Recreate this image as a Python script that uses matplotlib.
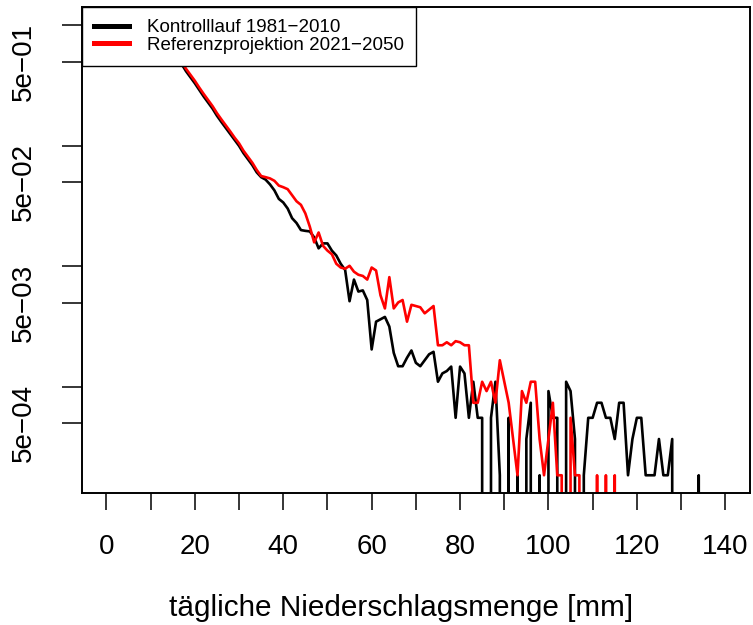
import matplotlib
matplotlib.use("Agg")
import matplotlib.pyplot as plt
from matplotlib.lines import Line2D
from matplotlib.ticker import NullLocator

plt.rcParams['font.family'] = ['Liberation Sans', 'DejaVu Sans']

# daily precipitation amount [mm]
x_mm = list(range(11, 141))

# relative frequency, control run 1981-2010
kontroll = [
    1.0, 0.902, 0.794, 0.708, 0.617, 0.550, 0.479, 0.417, 0.372, 0.331,   # 11-20
    0.292, 0.257, 0.229, 0.204, 0.178, 0.158, 0.141, 0.126, 0.112, 0.100,  # 21-30
    0.0871, 0.0776, 0.0692, 0.0603, 0.0550, 0.0525, 0.0479, 0.0427, 0.0363, 0.0339,  # 31-40
    0.0302, 0.0251, 0.0229, 0.0200, 0.0197, 0.0195, 0.0174, 0.0141, 0.0155, 0.0155,  # 41-50
    0.0135, 0.0123, 0.0105, 0.00933, 0.00513, 0.00776, 0.00617, 0.00631, 0.00525, 0.00204,  # 51-60
    0.00347, 0.00363, 0.00380, 0.00316, 0.00191, 0.00148, 0.00148, 0.00174, 0.00200, 0.00158,  # 61-70
    0.00148, 0.00166, 0.00186, 0.00195, 0.00110, 0.00129, 0.00135, 0.00147, 0.000552, 0.00147,  # 71-80
    0.00129, 0.000552, 0.00110, 0.000552, 0.000552, 0.0, 0.000552, 0.00110, 0.000184, 0.0,  # 81-90
    0.000552, 0.0, 0.000184, 0.0, 0.000368, 0.000736, 0.0, 0.000184, 0.0, 0.00092,  # 91-100
    0.000552, 0.000552, 0.0, 0.00110, 0.00092, 0.000368, 0.0, 0.000184, 0.000552, 0.000552,  # 101-110
    0.000736, 0.000736, 0.000552, 0.000552, 0.000368, 0.000736, 0.000736, 0.000184, 0.000368, 0.000552,  # 111-120
    0.000552, 0.000184, 0.000184, 0.000184, 0.000368, 0.000184, 0.000184, 0.000368, 0.0, 0.0,  # 121-130
    0.0, 0.0, 0.0, 0.000184, 0.0, 0.0, 0.0, 0.0, 0.0, 0.0,  # 131-140
]

# relative frequency, reference projection 2021-2050
referenz = [
    1.0, 0.94, 0.83, 0.74, 0.65, 0.575, 0.50, 0.437, 0.39, 0.347,   # 11-20
    0.305, 0.27, 0.24, 0.214, 0.187, 0.166, 0.148, 0.132, 0.117, 0.105,  # 21-30
    0.0912, 0.0813, 0.0725, 0.0631, 0.0562, 0.0550, 0.0537, 0.0513, 0.0468, 0.0454,  # 31-40
    0.0437, 0.0389, 0.0347, 0.0324, 0.0275, 0.0214, 0.0158, 0.0191, 0.0148, 0.0135,  # 41-50
    0.0126, 0.0105, 0.00977, 0.00955, 0.0101, 0.00902, 0.00851, 0.00832, 0.00776, 0.00977,  # 51-60
    0.00923, 0.00575, 0.00447, 0.00813, 0.00447, 0.00501, 0.00525, 0.00347, 0.00479, 0.00468,  # 61-70
    0.00457, 0.00407, 0.00437, 0.00468, 0.00221, 0.00221, 0.00234, 0.00221, 0.00239, 0.00234,  # 71-80
    0.00221, 0.00221, 0.000736, 0.000736, 0.00110, 0.00092, 0.00110, 0.000736, 0.00166, 0.00110,  # 81-90
    0.000736, 0.000368, 0.000184, 0.00092, 0.000736, 0.00110, 0.00110, 0.000368, 0.000184, 0.000368,  # 91-100
    0.000736, 0.000184, 0.000184, 0.0, 0.000552, 0.000184, 0.000184, 0.0, 0.0, 0.0,  # 101-110
    0.000184, 0.0, 0.000184, 0.0, 0.000184, 0.0, 0.0, 0.0, 0.0, 0.0,  # 111-120
    0.0, 0.0, 0.0, 0.0, 0.0, 0.0, 0.0, 0.0, 0.0, 0.0,  # 121-130
    0.0, 0.0, 0.0, 0.0, 0.0, 0.0, 0.0, 0.0, 0.0, 0.0,  # 131-140
]

labels = ["Kontrolllauf 1981\u22122010", "Referenzprojektion 2021\u22122050"]
colors = ["black", "#ff0000"]

x_ticks = list(range(0, 141, 10))
x_ticklabels = [str(v) if v % 20 == 0 else "" for v in x_ticks]
y_ticks = [1, 0.5, 0.1, 0.05, 0.01, 0.005, 0.001, 0.0005]
y_ticklabels = ["", "5e\u221201", "", "5e\u221202", "", "5e\u221203", "", "5e\u221204"]
xlabel = "tägliche Niederschlagsmenge [mm]"

W, H = 753, 625
fig = plt.figure(figsize=(W / 100, H / 100), dpi=100)
L, R, T, B = 81.7, 750.0, 7.3, 493.3
ax = fig.add_axes([L / W, (H - B) / H, (R - L) / W, (B - T) / H])

ax.set_yscale('log', nonpositive='clip')
ax.plot(x_mm, kontroll, color=colors[0], lw=1.9, solid_joinstyle='round')
ax.plot(x_mm, referenz, color=colors[1], lw=1.9, solid_joinstyle='round')

ax.set_xlim(-5.6, 145.6)
ax.set_ylim(10 ** -3.885, 10 ** 0.151)

ax.set_xticks(x_ticks)
ax.set_xticklabels(x_ticklabels, fontsize=20)
ax.set_yticks(y_ticks)
ax.set_yticklabels(y_ticklabels, fontsize=20, rotation=90, va='center')
ax.yaxis.set_minor_locator(NullLocator())
ax.tick_params(axis='x', direction='out', length=12.2, width=1.1, pad=17)
ax.tick_params(axis='y', direction='out', length=14.4, width=1.1, pad=18)
for s in ax.spines.values():
    s.set_linewidth(1.4)

ax.set_xlabel(xlabel, fontsize=21.4)
ax.xaxis.set_label_coords(0.478, -0.208)

handles = [Line2D([], [], color=c, lw=3.6) for c in colors]
leg = ax.legend(handles, labels, loc='upper left', bbox_to_anchor=(0, 1),
                borderaxespad=0, fancybox=False, framealpha=1, edgecolor='black',
                fontsize=13.5, handlelength=1.9, handletextpad=0.95,
                borderpad=0.64, labelspacing=0.02)
leg.get_frame().set_linewidth(1.0)

fig.savefig("out.png", dpi=100)
